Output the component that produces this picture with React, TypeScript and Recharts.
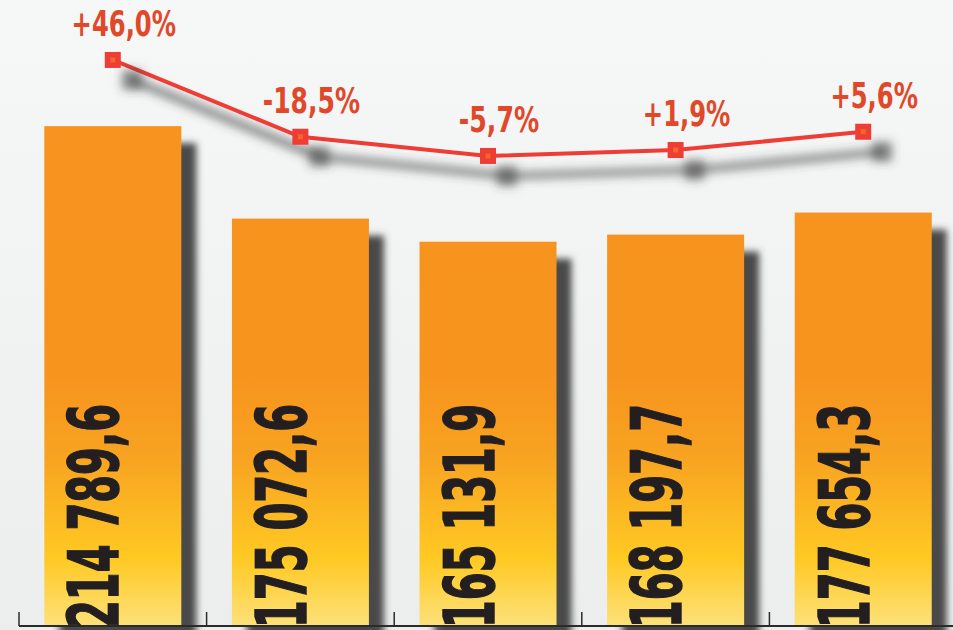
import { Bar, ComposedChart, LabelList, Line, XAxis, YAxis } from 'recharts'

const periods = ['1', '2', '3', '4', '5']
const volumes = [214789.6, 175072.6, 165131.9, 168197.7, 177654.3]
const changes = [46.0, -18.5, -5.7, 1.9, 5.6]

const NARROW = '"Liberation Sans Narrow", "DejaVu Sans Condensed", "Arial Narrow", sans-serif'

const CHART_W = 960
const MARGIN = { top: 0, right: 3, bottom: 4, left: 19 }
const HALF_BAND = (CHART_W - MARGIN.left - MARGIN.right) / periods.length / 2

function fmtVolume(v: number): string {
  const [int, dec] = v.toFixed(1).split('.')
  return `${int.replace(/\B(?=(\d{3})+(?!\d))/g, ' ')},${dec}`
}

function fmtChange(v: number): string {
  return `${v > 0 ? '+' : ''}${v.toFixed(1).replace('.', ',')}%`
}

// rough advance widths of a condensed bold face, in em
const CHAR_W: Record<string, number> = { '+': 0.5, '-': 0.3, ',': 0.23, '%': 0.76, ' ': 0.23 }
function textWidth(s: string, size: number): number {
  let w = 0
  for (const c of s) w += CHAR_W[c] ?? 0.47
  return w * size
}

const data = periods.map((p, i) => ({
  period: p,
  volume: volumes[i],
  change: changes[i],
}))

// bar with a soft dark shadow offset to the lower right
function ShadowBar(props: any) {
  const { x, y, width, height } = props
  return (
    <g>
      <rect x={x + 15} y={y + 17} width={width} height={height} fill="#4a4a4a" filter="url(#barBlur)" />
      <rect x={x} y={y} width={width} height={height} fill="url(#barGrad)" />
    </g>
  )
}

function SquareDot(props: any) {
  const { cx, cy } = props
  return (
    <g>
      <rect x={cx - 8} y={cy - 8} width={16} height={16} fill="#ee3d36" />
      <rect x={cx - 2.5} y={cy - 2.5} width={5} height={5} fill="#f2672b" />
    </g>
  )
}

// small upward tick on the left edge of each category band
function BoundaryTick(props: any) {
  const { x, y } = props
  const tx = x - HALF_BAND
  return <line x1={tx} x2={tx} y1={y - 14} y2={y} stroke="#2b2b2b" strokeWidth={1.5} />
}

function VolumeLabel(props: any) {
  const { x, y, height, value } = props
  const bx = x + 74
  const by = y + height + 2
  return (
    <text
      x={bx}
      y={by}
      transform={`rotate(-90, ${bx}, ${by})`}
      fontFamily={NARROW}
      fontWeight={700}
      fontSize={70}
      fill="#231f20"
      stroke="#231f20"
      strokeWidth={1.5}
      textLength={224}
      lengthAdjust="spacingAndGlyphs"
    >
      {fmtVolume(value)}
    </text>
  )
}

function ChangeLabel(props: any) {
  const { x, y, value } = props
  const s = fmtChange(value)
  return (
    <text
      x={x + 11}
      y={y - 24}
      textAnchor="middle"
      fontFamily={NARROW}
      fontWeight={700}
      fontSize={36}
      fill="#e0482a"
      textLength={textWidth(s, 36)}
      lengthAdjust="spacingAndGlyphs"
    >
      {s}
    </text>
  )
}

export default function App() {
  return (
    <div
      style={{
        position: 'fixed',
        left: 0,
        top: 0,
        width: 953,
        height: 630,
        overflow: 'hidden',
        background: 'linear-gradient(#f6f7f7, #eceded)',
      }}
    >
      <style>{`
        .recharts-line-curve, .recharts-line-dots { filter: url(#lineShadow); }
      `}</style>
      <ComposedChart width={CHART_W} height={630} data={data} margin={MARGIN} barCategoryGap="13.5%">
        <defs>
          <linearGradient id="barGrad" gradientUnits="userSpaceOnUse" x1={0} y1={120} x2={0} y2={630}>
            <stop offset="0" stopColor="#f7931e" />
            <stop offset="0.5" stopColor="#f7941e" />
            <stop offset="0.66" stopColor="#f8a321" />
            <stop offset="0.86" stopColor="#ffc923" />
            <stop offset="1" stopColor="#fce27f" />
          </linearGradient>
          <filter id="barBlur" filterUnits="userSpaceOnUse" x={0} y={0} width={1000} height={700}>
            <feGaussianBlur stdDeviation={3.5} />
          </filter>
          <filter id="lineShadow" filterUnits="userSpaceOnUse" x={0} y={0} width={1000} height={700}>
            <feMorphology in="SourceAlpha" operator="dilate" radius={1.5} result="fat" />
            <feGaussianBlur in="fat" stdDeviation={5} result="blur" />
            <feOffset in="blur" dx={19} dy={20} result="off" />
            <feFlood floodColor="#3c3c3c" floodOpacity={0.55} />
            <feComposite in2="off" operator="in" result="shadow" />
            <feMerge>
              <feMergeNode in="shadow" />
              <feMergeNode in="SourceGraphic" />
            </feMerge>
          </filter>
        </defs>
        <XAxis
          dataKey="period"
          mirror
          interval={0}
          tickSize={0}
          tickMargin={0}
          tickLine={false}
          tick={BoundaryTick}
          axisLine={{ stroke: '#2b2b2b', strokeWidth: 2 }}
        />
        <YAxis yAxisId="bars" domain={[0, 269000]} hide />
        <YAxis yAxisId="line" orientation="right" domain={[-78000, 245800]} hide />
        <Bar yAxisId="bars" dataKey="volume" shape={ShadowBar} isAnimationActive={false}>
          <LabelList dataKey="volume" content={VolumeLabel} />
        </Bar>
        <Line
          yAxisId="line"
          dataKey="volume"
          stroke="#ee3d36"
          strokeWidth={4}
          dot={SquareDot}
          activeDot={false}
          isAnimationActive={false}
        >
          <LabelList dataKey="change" content={ChangeLabel} />
        </Line>
      </ComposedChart>
    </div>
  )
}
